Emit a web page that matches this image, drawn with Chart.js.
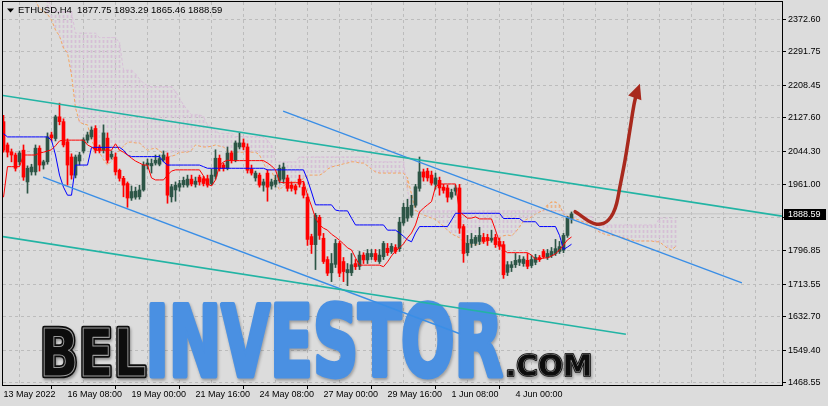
<!DOCTYPE html>
<html>
<head>
<meta charset="utf-8">
<title>ETHUSD H4</title>
<script src="https://cdn.jsdelivr.net/npm/chart.js@4.4.1/dist/chart.umd.min.js"></script>
<style>
  html, body { margin: 0; padding: 0; background: #dcdcdc; }
  #wrap { width: 828px; height: 406px; }
</style>
</head>
<body>
<div id="wrap"><canvas id="chart" width="828" height="406"></canvas></div>
<script>
// ETHUSD H4 candles, 13 May 2022 16:00 onward
const symbolName = 'ETHUSD,H4';

const opens = [
  2118, 2060, 2043, 2035, 2018, 2047, 1968, 1993, 1993, 2052,
  2010, 2018, 2085, 2076, 2130, 2118, 2068, 2030, 1985, 2020,
  2045, 2072, 2080, 2101, 2055, 2047, 2077, 2030, 2030, 1997,
  1977, 1964, 1928, 1930, 1931, 1948, 2010, 2008, 2015, 2012,
  2023, 2030, 1931, 1948, 1955, 1961, 1960, 1975, 1962, 1980,
  1976, 1976, 1964, 1982, 2027, 2010, 2002, 2040, 2022, 2055,
  2065, 2055, 2000, 1978, 1985, 1960, 1990, 1958, 1962, 1972,
  1975, 1978, 1960, 1958, 1975, 1955, 1930, 1832, 1812, 1880,
  1828, 1775, 1742, 1763, 1815, 1770, 1742, 1742, 1765, 1758,
  1786, 1774, 1782, 1790, 1770, 1782, 1803, 1795, 1805, 1802,
  1866, 1878, 1885, 1910, 1952, 1993, 1995, 1985, 1962, 1972,
  1955, 1953, 1930, 1945, 1953, 1857, 1792, 1815, 1815, 1820,
  1830, 1830, 1823, 1830, 1820, 1812, 1743, 1755, 1762, 1768,
  1765, 1773, 1760, 1768, 1780, 1795, 1780, 1785, 1790, 1795,
  1798, 1835, 1877.75
];
const highs = [
  2134, 2065, 2050, 2040, 2045, 2060, 2008, 2012, 2060, 2058,
  2022, 2090, 2092, 2134, 2164, 2125, 2075, 2038, 2035, 2042,
  2078, 2092, 2105, 2108, 2060, 2110, 2090, 2045, 2040, 2000,
  1982, 1968, 1958, 1955, 1960, 2018, 2025, 2025, 2035, 2035,
  2045, 2040, 1962, 1968, 1972, 1980, 1985, 1985, 1980, 1985,
  1982, 1985, 2000, 2048, 2035, 2015, 2055, 2045, 2070, 2090,
  2075, 2063, 2010, 1995, 1990, 1975, 1998, 1975, 1985, 2010,
  2015, 1985, 1968, 1962, 1985, 1968, 1938, 1838, 1890, 1885,
  1840, 1782, 1790, 1825, 1820, 1780, 1765, 1790, 1775, 1795,
  1792, 1800, 1800, 1800, 1800, 1820, 1815, 1815, 1812, 1880,
  1915, 1925, 1935, 1962, 2030, 2000, 2002, 1995, 1990, 1980,
  1962, 1960, 1950, 1960, 1962, 1862, 1835, 1840, 1835, 1855,
  1840, 1838, 1848, 1838, 1828, 1820, 1770, 1770, 1790, 1785,
  1782, 1790, 1785, 1788, 1785, 1800, 1800, 1805, 1825, 1820,
  1840, 1882, 1893.29
];
const lows = [
  2042, 2030, 2018, 1995, 2010, 1972, 1940, 1985, 1985, 1995,
  2000, 2012, 2070, 2070, 2110, 2055, 1960, 1975, 1978, 2010,
  2040, 2065, 2075, 2040, 2040, 2040, 2015, 2025, 1985, 1970,
  1931, 1905, 1922, 1925, 1925, 1945, 2000, 1990, 2010, 2008,
  2018, 1915, 1918, 1920, 1945, 1955, 1955, 1958, 1955, 1960,
  1958, 1955, 1960, 1975, 1995, 1995, 1998, 2015, 2018, 2050,
  2048, 1990, 1985, 1970, 1955, 1945, 1920, 1950, 1955, 1965,
  1965, 1945, 1945, 1938, 1955, 1928, 1810, 1790, 1750, 1825,
  1765, 1735, 1720, 1755, 1732, 1720, 1710, 1735, 1750, 1750,
  1765, 1765, 1775, 1770, 1765, 1775, 1785, 1790, 1790, 1795,
  1860, 1870, 1880, 1905, 1945, 1970, 1970, 1960, 1950, 1935,
  1940, 1918, 1925, 1935, 1840, 1768, 1785, 1805, 1810, 1812,
  1815, 1810, 1818, 1805, 1800, 1728, 1735, 1745, 1755, 1760,
  1758, 1752, 1755, 1762, 1770, 1778, 1775, 1780, 1785, 1790,
  1792, 1830, 1865.46
];
const closes = [
  2047, 2042, 2035, 2002, 2040, 1980, 2002, 2005, 2052, 2010,
  2018, 2080, 2078, 2130, 2118, 2060, 2010, 1985, 2030, 2035,
  2073, 2085, 2097, 2047, 2047, 2090, 2022, 2037, 1993, 1977,
  1960, 1928, 1944, 1945, 1948, 2010, 2015, 2014, 2022, 2026,
  2035, 1935, 1956, 1960, 1964, 1972, 1975, 1963, 1970, 1968,
  1964, 1960, 1985, 2027, 2002, 2002, 2040, 2022, 2065, 2065,
  2055, 1997, 1990, 1990, 1960, 1968, 1955, 1968, 1972, 2002,
  2005, 1952, 1952, 1948, 1962, 1935, 1825, 1812, 1885, 1835,
  1770, 1741, 1765, 1815, 1741, 1745, 1750, 1762, 1757, 1786,
  1774, 1790, 1790, 1774, 1786, 1815, 1792, 1808, 1795, 1868,
  1905, 1905, 1910, 1956, 1993, 1980, 1978, 1965, 1978, 1953,
  1947, 1930, 1942, 1953, 1853, 1790, 1815, 1825, 1830, 1835,
  1820, 1822, 1828, 1812, 1808, 1737, 1762, 1762, 1773, 1775,
  1776, 1758, 1775, 1780, 1775, 1782, 1790, 1795, 1802, 1807,
  1835, 1878, 1888.59
];

// Ichimoku lines
const tenkan = [
  1930, 2006, 2006, 2006, 2006, 2035, 2035, 2035, 2035, 2040,
  2042, 2045, 2048, 2058, 2070, 2072, 2072, 2072, 2072, 2072,
  2072, 2060, 2055, 2047, 2047, 2047, 2047, 2047, 2063, 2047,
  2042, 2035, 2027, 2020, 2015, 2010, 2010, 1978, 1973, 1973,
  1973, 1985, 1995, 1998, 1998, 1998, 1998, 1998, 1998, 1998,
  1983, 1963, 1958, 1973, 2008, 2018, 2022, 2021, 2021, 2021,
  2021, 2021, 2021, 2021, 2021, 2021, 2015, 2008, 1998, 1968,
  1966, 1966, 1966, 1966, 1966, 1970, 1935, 1908, 1878, 1861,
  1853, 1848, 1838, 1831, 1823, 1814, 1804, 1799, 1779, 1761,
  1761, 1761, 1761, 1761, 1761, 1757, 1769, 1784, 1796, 1804,
  1814, 1829, 1841, 1861, 1893, 1903, 1911, 1919, 1956, 1963,
  1963, 1963, 1963, 1963, 1893, 1886, 1878, 1878, 1881, 1876,
  1876, 1876, 1876, 1848, 1819, 1799, 1792, 1792, 1792, 1792,
  1792, 1792, 1786, 1776, 1776, 1779, 1779, 1784, 1789, 1799,
  1811, 1824, 1831
];
const kijun = [
  2088, 2080, 2080, 2080, 2080, 2080, 2080, 2080, 2080, 2080,
  2080, 2080, 2072, 2035, 1985, 1955, 1935, 1935, 2010, 2010,
  2010, 2010, 2054, 2054, 2054, 2054, 2054, 2054, 2054, 2054,
  2047, 2035, 2031, 2031, 2031, 2031, 2031, 2031, 2031, 2031,
  2018, 2010, 2010, 2010, 2010, 2010, 2010, 2010, 2010, 2010,
  2006, 2002, 2002, 2002, 2002, 2002, 2002, 2002, 2002, 2002,
  2002, 2002, 2002, 2002, 2002, 2002, 1998, 1998, 1998, 1998,
  1998, 1998, 1998, 1998, 1998, 1998, 1973, 1943, 1911, 1911,
  1911, 1911, 1911, 1898, 1896, 1896, 1896, 1878, 1861, 1861,
  1861, 1861, 1861, 1861, 1861, 1861, 1848, 1848, 1848, 1841,
  1833, 1824, 1819, 1841, 1857, 1857, 1857, 1857, 1857, 1857,
  1857, 1857, 1873, 1890, 1890, 1890, 1890, 1890, 1890, 1890,
  1890, 1890, 1890, 1890, 1890, 1877, 1877, 1877, 1877, 1877,
  1869, 1869, 1869, 1869, 1857, 1857, 1857, 1857, 1857, 1835,
  1800, 1806, 1813
];
// senkou spans are shifted 26 bars ahead, so they run past the last candle
const spanAStart = 7;
const spanA = [
  2430, 2418, 2400,
  2392, 2385, 2371, 2346, 2331, 2301, 2289, 2234, 2152, 2117,
  2112, 2110, 2072, 2050, 2042, 2023, 2010, 2020, 2035, 2047,
  2057, 2067, 2067, 2065, 2065, 2055, 2047, 2050, 2052, 2047,
  2035, 2030, 2032, 2035, 2042, 2042, 2042, 2047, 2060, 2057,
  2055, 2055, 2057, 2060, 2057, 2055, 2045, 2042, 2042, 2042,
  2042, 2042, 2042, 2042, 2035, 2015, 1995, 1998, 1968, 1948,
  1958, 1965, 1968, 1968, 1965, 1978, 1985, 1985, 1985, 1985,
  1990, 2000, 2005, 2008, 2010, 2013, 2015, 2018, 2018, 2015,
  2015, 2008, 2000, 1993, 1990, 1990, 1990, 1990, 1990, 1990,
  1990, 1978, 1938, 1898, 1891, 1886, 1882, 1878, 1875, 1866,
  1858, 1848, 1839, 1834, 1829, 1819, 1814, 1811, 1811, 1814,
  1819, 1821, 1824, 1826, 1829, 1834, 1836, 1834, 1843, 1856,
  1871, 1876, 1881, 1888, 1893, 1898, 1911, 1918, 1918, 1911,
  1888, 1883, 1878, 1876, 1873, 1868, 1865, 1858, 1851, 1843,
  1839, 1836, 1835, 1834, 1832, 1829, 1826, 1824, 1821, 1821,
  1821, 1821, 1821, 1819, 1819, 1811, 1803, 1799, 1807
];
const spanBStart = 11;
const spanB = [
  2430, 2396, 2391, 2391, 2391, 2391, 2391, 2338, 2338,
  2338, 2338, 2338, 2338, 2327, 2327, 2327, 2327, 2327, 2314,
  2246, 2246, 2246, 2237, 2224, 2214, 2207, 2205, 2205, 2205,
  2205, 2205, 2205, 2193, 2177, 2159, 2147, 2135, 2135, 2135,
  2130, 2110, 2105, 2095, 2089, 2089, 2089, 2089, 2081, 2081,
  2081, 2081, 2081, 2081, 2081, 2081, 2072, 2060, 2018, 2018,
  2018, 2018, 2018, 2018, 2030, 2030, 2030, 2030, 2030, 2030,
  2030, 2030, 2030, 2030, 2030, 2030, 2030, 2030, 2030, 2030,
  2030, 2030, 2018, 2018, 2018, 2018, 2018, 2018, 2018, 2018,
  2018, 1948, 1896, 1896, 1896, 1896, 1896, 1896, 1896, 1896,
  1896, 1896, 1896, 1896, 1896, 1896, 1896, 1896, 1896, 1896,
  1896, 1896, 1896, 1896, 1896, 1896, 1896, 1896, 1896, 1896,
  1896, 1896, 1896, 1896, 1896, 1896, 1896, 1896, 1896, 1896,
  1896, 1881, 1881, 1881, 1881, 1881, 1881, 1881, 1861, 1861,
  1861, 1861, 1861, 1861, 1861, 1861, 1861, 1861, 1861, 1861,
  1861, 1861, 1861, 1861, 1878, 1878, 1878, 1878, 1878
];

// axis labels
const xTickLabels = ['13 May 2022', '16 May 08:00', '19 May 00:00', '21 May 16:00', '24 May 08:00',
  '27 May 00:00', '29 May 16:00', '1 Jun 08:00', '4 Jun 00:00'];
const labelStep = 16;   // bars between time labels
const gridStep = 8;     // bars between vertical grid lines
const yTickLabels = [2372.60, 2291.75, 2208.45, 2127.60, 2044.30, 1961.00, 1880.15,
  1796.85, 1713.55, 1632.70, 1549.40, 1468.55];

// drawn objects, as [bar, price] anchors
const tealUpper = [[-0.125, 2183], [194.625, 1883]];
const tealLower = [[-0.125, 1832], [155.6, 1589]];
const blueLower = [[9.9, 1980], [113.9, 1591]];
const blueUpper = [[69.9, 2144], [184.6, 1717]];
const arrowPath = [
  [142.9, 1894], [144.1, 1886], [146.6, 1869], [148.3, 1863], [150.0, 1865], [151.2, 1873],
  [152.4, 1890], [153.3, 1915], [154.1, 1956], [155.4, 2023], [156.6, 2097], [157.6, 2159],
  [158.3, 2190], [159.1, 2212]
];

const xMin = -0.125, xMax = 194.625;
const yMin = 1462.81, yMax = 2415.64;

const bullColor = '#2d5546';
const bearColor = '#ff0000';
const gridColor = '#bcbcbc';
const fontFamily = '"Liberation Sans", Arial, sans-serif';

Chart.defaults.font.family = fontFamily;
Chart.defaults.font.size = 9;
Chart.defaults.color = '#000';

const canvas = document.getElementById('chart');
const ctx = canvas.getContext('2d');

function makeHatch(color) {
  const c = document.createElement('canvas');
  c.width = 1;
  c.height = 5;
  const g = c.getContext('2d');
  g.fillStyle = color;
  g.fillRect(0, 0, 1, 3);
  return ctx.createPattern(c, 'repeat');
}
const hatchThistle = makeHatch('#d6bed6');
const hatchSandy = makeHatch('#eab48a');

const last = closes.length - 1;
const candleColors = opens.map((o, i) => closes[i] >= o ? bullColor : bearColor);
const bodies = opens.map((o, i) => ({ x: i, y: [Math.min(o, closes[i]), Math.max(o, closes[i])] }));
const wicks = opens.map((o, i) => ({ x: i, y: [lows[i], highs[i]] }));

const cloud = [];
const cloudColors = [];
for (let i = spanBStart; i < spanBStart + spanB.length; i++) {
  const a = spanA[i - spanAStart];
  const b = spanB[i - spanBStart];
  cloud.push({ x: i, y: [Math.min(a, b), Math.max(a, b)] });
  cloudColors.push(a > b ? hatchSandy : hatchThistle);
}

function points(list, start) {
  return list.map((v, i) => ({ x: i + (start || 0), y: v }));
}
function anchors(list) {
  return list.map(p => ({ x: p[0], y: p[1] }));
}
function lineSet(data, color, width, order, extra) {
  return Object.assign({
    type: 'line', data: data, borderColor: color, borderWidth: width,
    pointRadius: 0, fill: false, tension: 0, order: order
  }, extra || {});
}

// watermark word, stretched into a pixel box [x0, top, x1, baseline]
function drawWord(c, text, box, paint) {
  c.save();
  c.font = 'bold 100px "DejaVu Sans Condensed", "Liberation Sans Narrow", sans-serif';
  c.textBaseline = 'alphabetic';
  c.textAlign = 'left';
  const m = c.measureText(text);
  const w = m.actualBoundingBoxLeft + m.actualBoundingBoxRight;
  const h = m.actualBoundingBoxAscent;
  c.translate(box[0], box[3]);
  c.scale((box[2] - box[0]) / w, (box[3] - box[1]) / h);
  paint(c, text, m.actualBoundingBoxLeft);
  c.restore();
}

function outlined(c, text, x) {
  c.lineJoin = 'round';
  c.shadowColor = 'rgba(0,0,0,0.35)';
  c.shadowOffsetX = 1;
  c.shadowOffsetY = 2;
  c.shadowBlur = 3;
  c.strokeStyle = '#0d0d0d';
  c.lineWidth = 7;
  c.strokeText(text, x, 0);
  c.shadowColor = 'transparent';
  c.fillStyle = '#0d0d0d';
  c.fillText(text, x, 0);
  c.strokeStyle = '#9a9a9a';
  c.lineWidth = 1.6;
  c.strokeText(text, x, 0);
}

function solidBlue(c, text, x) {
  c.lineJoin = 'round';
  c.shadowColor = 'rgba(0,0,0,0.3)';
  c.shadowOffsetX = 1;
  c.shadowOffsetY = 2;
  c.shadowBlur = 3;
  c.fillStyle = '#4a90e2';
  c.strokeStyle = '#4a90e2';
  c.lineWidth = 5;
  c.strokeText(text, x, 0);
  c.shadowColor = 'transparent';
  c.fillText(text, x, 0);
}

function drawWatermark(chart) {
  const c = chart.ctx;
  drawWord(c, 'BEL', [44, 328, 145, 376], outlined);
  drawWord(c, 'INVESTOR', [151, 302, 502, 376], solidBlue);
  drawWord(c, '.COM', [508, 354, 590, 376], outlined);
}

function drawArrowHead(chart) {
  const xs = chart.scales.x, ys = chart.scales.y, c = chart.ctx;
  const n = arrowPath.length;
  const tx = xs.getPixelForValue(arrowPath[n - 1][0]);
  const ty = ys.getPixelForValue(arrowPath[n - 1][1]);
  const bx = xs.getPixelForValue(arrowPath[n - 2][0]);
  const by = ys.getPixelForValue(arrowPath[n - 2][1]);
  const ang = Math.atan2(ty - by, tx - bx);
  const len = 15, half = 7;
  const cx = tx - Math.cos(ang) * len, cy = ty - Math.sin(ang) * len;
  c.save();
  c.fillStyle = '#a8291d';
  c.beginPath();
  c.moveTo(tx, ty);
  c.lineTo(cx + Math.sin(ang) * half, cy - Math.cos(ang) * half);
  c.lineTo(cx - Math.sin(ang) * half, cy + Math.cos(ang) * half);
  c.closePath();
  c.fill();
  c.restore();
}

function drawOverlay(chart) {
  const c = chart.ctx, a = chart.chartArea;
  c.save();
  c.strokeStyle = '#000';
  c.lineWidth = 1;
  c.strokeRect(a.left - 0.5, a.top - 0.5, a.right - a.left + 1, a.bottom - a.top + 1);

  // symbol header
  c.fillStyle = '#000';
  c.beginPath();
  c.moveTo(7, 8.5);
  c.lineTo(14, 8.5);
  c.lineTo(10.5, 12.5);
  c.closePath();
  c.fill();
  c.font = '9.5px ' + fontFamily;
  c.textBaseline = 'middle';
  c.textAlign = 'left';
  const head = symbolName + '  ' + [opens[last], highs[last], lows[last], closes[last]]
    .map(v => v.toFixed(2)).join(' ');
  c.fillText(head, 18, 10.5);

  // last price box
  const py = chart.scales.y.getPixelForValue(closes[last]);
  c.font = '9px ' + fontFamily;
  c.fillStyle = '#000';
  c.fillRect(a.right + 2, Math.round(py) - 5, 826 - a.right - 2, 11);
  c.fillStyle = '#fff';
  c.fillText(closes[last].toFixed(2), a.right + 6, Math.round(py) + 0.5);
  c.restore();
}

const chartDecor = {
  id: 'chartDecor',
  beforeDatasetsDraw: drawWatermark,
  afterDatasetsDraw: drawArrowHead,
  afterDraw: drawOverlay
};

new Chart(ctx, {
  type: 'bar',
  data: {
    datasets: [
      lineSet(anchors(arrowPath.slice(0, -1)), '#a8291d', 3.5, 0, { tension: 0.4, borderCapStyle: 'round' }),
      lineSet(anchors(tealUpper), '#22b4a4', 1.6, 1),
      lineSet(anchors(tealLower), '#22b4a4', 1.6, 1),
      lineSet(anchors(blueLower), '#3a8ee6', 1.4, 1),
      lineSet(anchors(blueUpper), '#3a8ee6', 1.4, 1),
      lineSet(points(tenkan), '#ff0000', 1, 2),
      lineSet(points(kijun), '#0000ff', 1, 2),
      {
        type: 'bar', data: bodies, backgroundColor: candleColors, borderWidth: 0,
        barThickness: 3, grouped: false, minBarLength: 1, order: 3
      },
      {
        type: 'bar', data: wicks, backgroundColor: candleColors, borderWidth: 0,
        barThickness: 1, grouped: false, minBarLength: 1, order: 4
      },
      lineSet([{ x: xMin, y: closes[last] }, { x: xMax, y: closes[last] }], '#c2c2c2', 1, 5),
      lineSet(points(spanA, spanAStart), '#f4a460', 1, 6, { borderDash: [3, 2] }),
      lineSet(points(spanB, spanBStart), '#d8bfd8', 1, 6, { borderDash: [3, 2] }),
      {
        type: 'bar', data: cloud, backgroundColor: cloudColors, borderWidth: 0,
        barThickness: 1, grouped: false, order: 7
      }
    ]
  },
  options: {
    responsive: false,
    devicePixelRatio: 1,
    animation: false,
    events: [],
    layout: { padding: { left: 3, top: 2, right: 0, bottom: 0 } },
    plugins: { legend: { display: false }, tooltip: { enabled: false } },
    scales: {
      x: {
        type: 'linear', min: xMin, max: xMax, offset: false,
        afterBuildTicks(scale) {
          const t = [];
          for (let b = 0; b <= xMax; b += gridStep) t.push({ value: b });
          scale.ticks = t;
        },
        afterFit(scale) {
          scale.height = 21;
          scale.paddingLeft = 0;
          scale.paddingRight = 0;
        },
        ticks: {
          autoSkip: false, maxRotation: 0, minRotation: 0, align: 'start', padding: 0,
          callback(value) {
            const k = value / labelStep;
            return Number.isInteger(k) && k < xTickLabels.length ? xTickLabels[k] : '';
          }
        },
        grid: {
          color: gridColor, tickLength: 4, tickBorderDash: [],
          tickColor: c => (c.tick && c.tick.value / labelStep < xTickLabels.length &&
            c.tick.value % labelStep === 0) ? '#000' : 'rgba(0,0,0,0)'
        },
        border: { display: false, dash: [3, 3] }
      },
      y: {
        type: 'linear', position: 'right', min: yMin, max: yMax,
        afterBuildTicks(scale) {
          scale.ticks = yTickLabels.map(v => ({ value: v }));
        },
        afterFit(scale) {
          scale.width = 46;
          scale.paddingTop = 0;
          scale.paddingBottom = 0;
        },
        ticks: { autoSkip: false, padding: 2, callback: v => v.toFixed(2) },
        grid: { color: gridColor, tickLength: 4, tickColor: '#000', tickBorderDash: [] },
        border: { display: false, dash: [3, 3] }
      }
    }
  },
  plugins: [chartDecor]
});
</script>
</body>
</html>
